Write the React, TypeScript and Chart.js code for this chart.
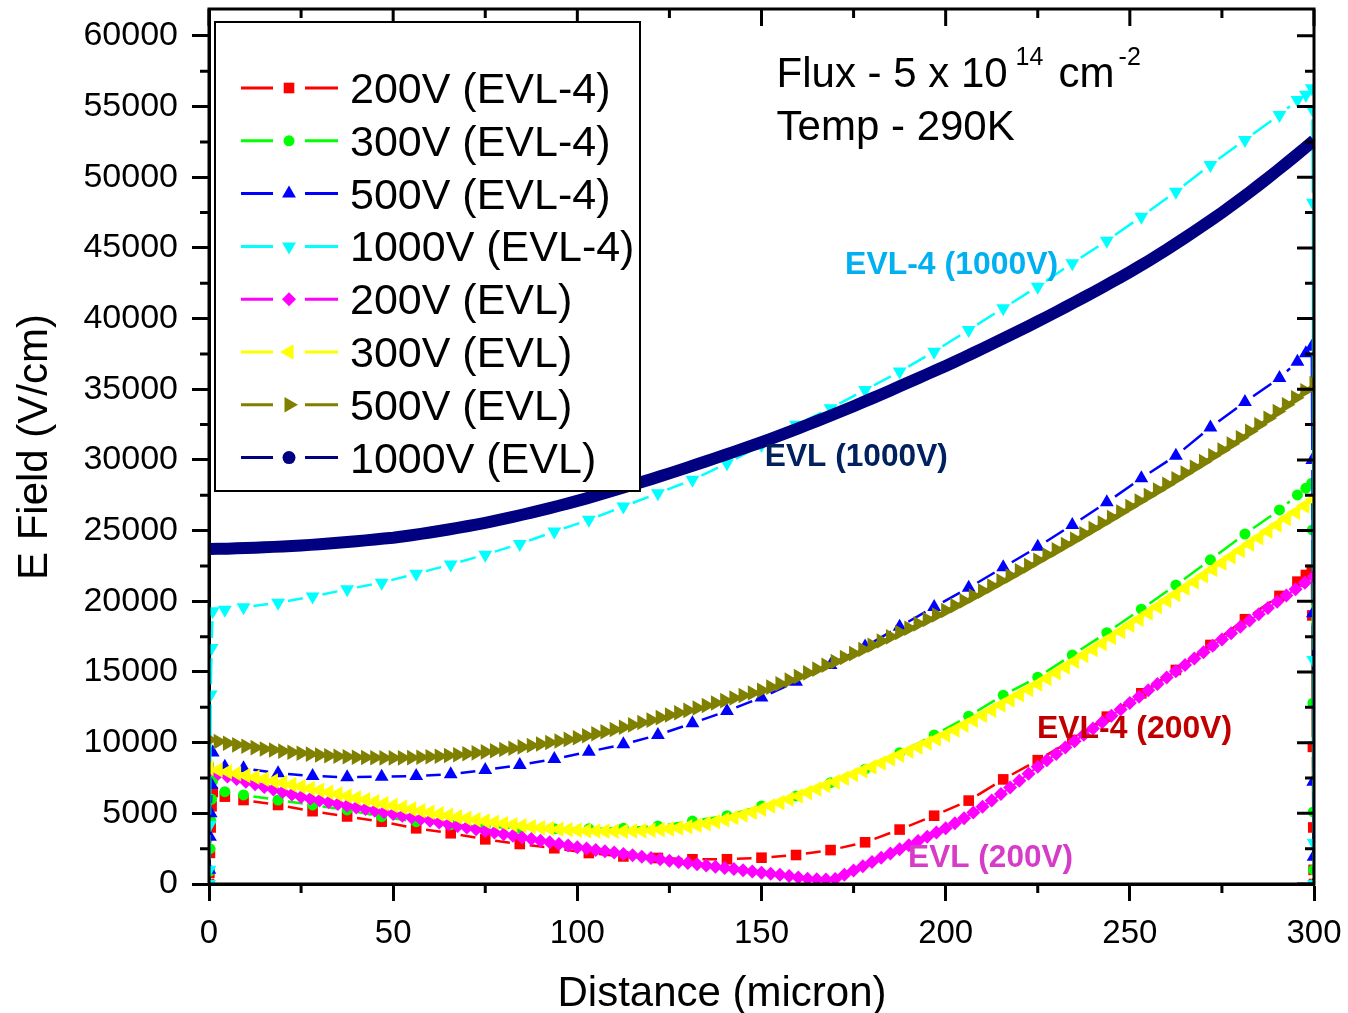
import React, { useEffect, useRef } from 'react';
import { Chart, registerables } from 'chart.js';

Chart.register(...registerables);

const FONT = '"Liberation Sans", Arial, Helvetica, sans-serif';

// Fine simulation mesh (micron) used by the EVL runs
const evlDistance = [
  0, 2.5, 5, 7.5, 10, 12.5, 15, 17.5, 20, 22.5,
  25, 27.5, 30, 32.5, 35, 37.5, 40, 42.5, 45, 47.5,
  50, 52.5, 55, 57.5, 60, 62.5, 65, 67.5, 70, 72.5,
  75, 77.5, 80, 82.5, 85, 87.5, 90, 92.5, 95, 97.5,
  100, 102.5, 105, 107.5, 110, 112.5, 115, 117.5, 120, 122.5,
  125, 127.5, 130, 132.5, 135, 137.5, 140, 142.5, 145, 147.5,
  150, 152.5, 155, 157.5, 160, 162.5, 165, 167.5, 170, 172.5,
  175, 177.5, 180, 182.5, 185, 187.5, 190, 192.5, 195, 197.5,
  200, 202.5, 205, 207.5, 210, 212.5, 215, 217.5, 220, 222.5,
  225, 227.5, 230, 232.5, 235, 237.5, 240, 242.5, 245, 247.5,
  250, 252.5, 255, 257.5, 260, 262.5, 265, 267.5, 270, 272.5,
  275, 277.5, 280, 282.5, 285, 287.5, 290, 292.5, 295, 297.5,
  300,
];

// Coarser mesh (micron) of the EVL-4 runs, refined at both contacts
const evl4Distance = [
  0, 0.1, 0.25, 0.45, 0.7, 1.0, 4.3,
  9.375, 18.75, 28.125, 37.5, 46.875, 56.25, 65.625, 75, 84.375, 93.75,
  103.125, 112.5, 121.875, 131.25, 140.625, 150, 159.375, 168.75, 178.125, 187.5,
  196.875, 206.25, 215.625, 225, 234.375, 243.75, 253.125, 262.5, 271.875, 281.25, 290.625,
  295.5, 297.8, 299.4, 299.55, 299.7, 299.8, 299.9, 300,
];

// Electric field (V/cm), EVL-4 model
const field200V_EVL4 = [
  0, 800, 2200, 4000, 5500, 6500, 6180,
  5940, 5590, 5150, 4780, 4410, 3940, 3590, 3160, 2830, 2530,
  2190, 1950, 1840, 1750, 1750, 1860, 2050, 2400, 2950, 3850,
  4830, 5900, 7400, 8760, 10190, 11840, 13490, 15140, 16910, 18730, 20380,
  21390, 21860, 22220, 19000, 9700, 4000, 1000, 0,
];
const field300V_EVL4 = [
  0, 900, 2500, 4500, 6000, 7300, 6530,
  6300, 5940, 5590, 5240, 4760, 4410, 4200, 4050, 3950, 3900,
  3900, 3950, 4100, 4450, 4830, 5520, 6230, 7170, 8120, 9290,
  10540, 11870, 13360, 14630, 16200, 17780, 19440, 21150, 22930, 24760, 26460,
  27520, 28000, 28350, 25050, 12800, 5100, 1000, 0,
];
const field500V_EVL4 = [
  0, 1000, 3350, 5000, 7000, 9300, 8300,
  8190, 7830, 7640, 7550, 7590, 7640, 7770, 8070, 8420, 8840,
  9360, 9880, 10540, 11370, 12240, 13200, 14300, 15500, 16800, 18200,
  19600, 20950, 22400, 23850, 25400, 27000, 28700, 30300, 32300, 34100, 35800,
  36950, 37550, 38000, 30000, 19150, 7240, 1930, 0,
];
const field1000V_EVL4 = [
  0, 1000, 4200, 13400, 16700, 19300, 19400,
  19580, 19900, 20330, 20850, 21320, 21950, 22600, 23300, 24060, 24930,
  25760, 26700, 27640, 28590, 29770, 31050, 32480, 33660, 34950, 36250,
  37660, 39200, 40730, 42260, 43920, 45500, 47210, 48980, 50870, 52640, 54410,
  55470, 55830, 56300, 54800, 48200, 15850, 2900, 0,
];

// Electric field (V/cm), EVL model
const field200V_EVL = [
  8000, 7805, 7613, 7424, 7238, 7053, 6869, 6687, 6506, 6327,
  6150, 6025, 5901, 5779, 5658, 5538, 5419, 5301, 5184, 5067,
  4950, 4830, 4710, 4590, 4470, 4350, 4230, 4110, 3990, 3870,
  3750, 3635, 3520, 3405, 3290, 3175, 3060, 2945, 2830, 2715,
  2600, 2505, 2410, 2315, 2220, 2125, 2030, 1935, 1840, 1745,
  1650, 1565, 1480, 1395, 1310, 1225, 1140, 1055, 970, 885,
  800, 720, 650, 560, 460, 380, 330, 310, 350, 650,
  950, 1250, 1550, 1850, 2150, 2450, 2750, 3050, 3350, 3650,
  3950, 4290, 4660, 5055, 5470, 5905, 6360, 6830, 7310, 7800,
  8300, 8750, 9200, 9650, 10100, 10550, 11000, 11450, 11900, 12350,
  12800, 13250, 13700, 14150, 14600, 15050, 15500, 15950, 16400, 16850,
  17300, 17745, 18190, 18635, 19080, 19525, 19970, 20415, 20860, 21305,
  21750,
];
const field300V_EVL = [
  8200, 8070, 7940, 7810, 7680, 7550, 7420, 7290, 7160, 7030,
  6900, 6765, 6630, 6495, 6360, 6225, 6090, 5955, 5820, 5685,
  5550, 5425, 5305, 5187, 5072, 4960, 4852, 4747, 4645, 4545,
  4450, 4360, 4275, 4195, 4120, 4050, 3985, 3927, 3877, 3835,
  3800, 3772, 3752, 3740, 3735, 3735, 3745, 3767, 3802, 3847,
  3900, 3970, 4055, 4155, 4270, 4400, 4545, 4705, 4885, 5085,
  5300, 5525, 5755, 5990, 6230, 6475, 6720, 6970, 7225, 7485,
  7750, 8015, 8285, 8560, 8840, 9120, 9400, 9685, 9970, 10260,
  10550, 10890, 11235, 11585, 11940, 12300, 12660, 13025, 13395, 13770,
  14150, 14545, 14945, 15350, 15760, 16175, 16590, 17010, 17435, 17865,
  18300, 18735, 19170, 19610, 20050, 20490, 20930, 21370, 21810, 22255,
  22700, 23150, 23600, 24050, 24500, 24950, 25400, 25850, 26300, 26750,
  27200,
];
const field500V_EVL = [
  10200, 10075, 9955, 9845, 9740, 9645, 9555, 9475, 9400, 9325,
  9250, 9185, 9127, 9077, 9034, 8998, 8968, 8945, 8930, 8922,
  8920, 8925, 8940, 8965, 9000, 9042, 9092, 9149, 9212, 9279,
  9350, 9430, 9515, 9605, 9700, 9800, 9900, 10005, 10115, 10230,
  10350, 10485, 10625, 10775, 10930, 11090, 11255, 11425, 11595, 11770,
  11950, 12115, 12285, 12455, 12625, 12800, 12975, 13155, 13335, 13515,
  13700, 13930, 14170, 14420, 14675, 14935, 15200, 15470, 15745, 16020,
  16300, 16590, 16885, 17185, 17485, 17790, 18095, 18405, 18715, 19030,
  19350, 19685, 20025, 20370, 20720, 21075, 21430, 21790, 22155, 22525,
  22900, 23270, 23640, 24015, 24390, 24770, 25150, 25535, 25920, 26310,
  26700, 27090, 27480, 27875, 28270, 28670, 29070, 29475, 29880, 30290,
  30700, 31130, 31570, 32020, 32480, 32950, 33420, 33900, 34390, 34890,
  35400,
];
const field1000V_EVL = [
  23700, 23710, 23725, 23745, 23767, 23792, 23819, 23849, 23881, 23915,
  23950, 23990, 24035, 24085, 24137, 24192, 24249, 24309, 24371, 24435,
  24500, 24580, 24670, 24765, 24865, 24970, 25080, 25192, 25307, 25427,
  25550, 25685, 25825, 25970, 26120, 26275, 26435, 26595, 26760, 26930,
  27100, 27280, 27465, 27655, 27850, 28045, 28240, 28440, 28640, 28845,
  29050, 29260, 29475, 29690, 29910, 30130, 30350, 30575, 30800, 31025,
  31250, 31490, 31735, 31985, 32235, 32490, 32745, 33005, 33265, 33530,
  33800, 34075, 34355, 34635, 34920, 35205, 35490, 35780, 36070, 36360,
  36650, 36950, 37255, 37565, 37875, 38190, 38505, 38825, 39145, 39470,
  39800, 40130, 40465, 40805, 41150, 41500, 41850, 42205, 42565, 42930,
  43300, 43680, 44070, 44470, 44880, 45300, 45725, 46160, 46600, 47045,
  47500, 47970, 48450, 48940, 49440, 49950, 50465, 50990, 51520, 52055,
  52600,
];

const seriesLabels = [
  '200V (EVL-4)', '300V (EVL-4)', '500V (EVL-4)', '1000V (EVL-4)',
  '200V (EVL)', '300V (EVL)', '500V (EVL)', '1000V (EVL)',
];

const xTickValues = [0, 50, 100, 150, 200, 250, 300];
const xMinorTickValues = [25, 75, 125, 175, 225, 275];
const yTickValues = [0, 5000, 10000, 15000, 20000, 25000, 30000, 35000, 40000, 45000, 50000, 55000, 60000];
const yMinorTickValues = [2500, 7500, 12500, 17500, 22500, 27500, 32500, 37500, 42500, 47500, 52500, 57500];

const xAxisTitle = 'Distance (micron)';
const yAxisTitle = 'E Field (V/cm)';

// In-plot curve labels, anchored in data coordinates (left edge, vertical centre)
const curveLabels = [
  { text: 'EVL-4 (1000V)', x: 172.7, y: 43940, color: '#00B0F0', width: 213 },
  { text: 'EVL (1000V)', x: 150.9, y: 30360, color: '#002060', width: 183 },
  { text: 'EVL-4 (200V)', x: 224.8, y: 11110, color: '#C00000', width: 195 },
  { text: 'EVL (200V)', x: 189.8, y: 2050, color: '#D63CC8', width: 165 },
];

// Conditions note: pieces of the first line with their offsets (px) from its start
const noteLine1 = [
  { text: 'Flux - 5 x 10', dx: 0, sup: false },
  { text: '14', dx: 239, sup: true },
  { text: 'cm', dx: 282, sup: false },
  { text: '-2', dx: 342, sup: true },
];
const noteLine2 = 'Temp - 290K';

// Visual style of each series (same order as seriesLabels)
const seriesStyles = [
  { color: '#FF0000', shape: 'rect', rotation: 0, radius: 7.5, sparse: true, line: 2.5 },
  { color: '#00FF00', shape: 'circle', rotation: 0, radius: 5.5, sparse: true, line: 2.5 },
  { color: '#0000FF', shape: 'triangle', rotation: 0, radius: 8, sparse: true, line: 2.5 },
  { color: '#00FFFF', shape: 'triangle', rotation: 180, radius: 8, sparse: true, line: 2.5 },
  { color: '#FF00FF', shape: 'rectRot', rotation: 0, radius: 7, sparse: false, line: 2 },
  { color: '#FFFF00', shape: 'triangle', rotation: -90, radius: 9, sparse: false, line: 2 },
  { color: '#808000', shape: 'triangle', rotation: 90, radius: 9, sparse: false, line: 2 },
  { color: '#000080', shape: 'circle', rotation: 0, radius: 0, sparse: false, line: 12 },
];

const seriesData = [
  [evl4Distance, field200V_EVL4],
  [evl4Distance, field300V_EVL4],
  [evl4Distance, field500V_EVL4],
  [evl4Distance, field1000V_EVL4],
  [evlDistance, field200V_EVL],
  [evlDistance, field300V_EVL],
  [evlDistance, field500V_EVL],
  [evlDistance, field1000V_EVL],
];

function drawMarker(ctx: CanvasRenderingContext2D, shape: string, rotation: number, x: number, y: number, r: number, color: string) {
  ctx.save();
  ctx.translate(x, y);
  ctx.rotate((rotation * Math.PI) / 180);
  ctx.fillStyle = color;
  ctx.beginPath();
  if (shape === 'rect') {
    const s = r * Math.SQRT1_2;
    ctx.rect(-s, -s, 2 * s, 2 * s);
  } else if (shape === 'circle') {
    ctx.arc(0, 0, r, 0, Math.PI * 2);
  } else if (shape === 'rectRot') {
    ctx.moveTo(0, -r);
    ctx.lineTo(r, 0);
    ctx.lineTo(0, r);
    ctx.lineTo(-r, 0);
    ctx.closePath();
  } else {
    ctx.moveTo(0, -r);
    ctx.lineTo(r * Math.sin((2 * Math.PI) / 3), -r * Math.cos((2 * Math.PI) / 3));
    ctx.lineTo(r * Math.sin((4 * Math.PI) / 3), -r * Math.cos((4 * Math.PI) / 3));
    ctx.closePath();
  }
  ctx.fill();
  ctx.restore();
}

// Keep the plot frame exactly where the axis sizes put it
function noLabelOverhang(s: any) {
  s.paddingTop = 0;
  s.paddingBottom = 0;
  s.paddingLeft = 0;
  s.paddingRight = 0;
}

const decorPlugin = {
  id: 'fieldDecor',
  // Origin-style connecting lines: broken just around each symbol
  beforeDatasetDraw(chart: any, args: any) {
    const style = seriesStyles[args.index];
    if (!style || !style.sparse) return;
    const { ctx, chartArea } = chart;
    const pts = args.meta.data;
    const gap = 10;
    ctx.save();
    ctx.beginPath();
    ctx.rect(chartArea.left, chartArea.top, chartArea.right - chartArea.left, chartArea.bottom - chartArea.top);
    ctx.clip();
    ctx.strokeStyle = style.color;
    ctx.lineWidth = style.line;
    ctx.beginPath();
    for (let i = 1; i < pts.length; i++) {
      const p = pts[i - 1];
      const q = pts[i];
      const dx = q.x - p.x;
      const dy = q.y - p.y;
      const d = Math.hypot(dx, dy);
      if (d <= 2 * gap + 3) continue;
      const ux = dx / d;
      const uy = dy / d;
      ctx.moveTo(p.x + ux * gap, p.y + uy * gap);
      ctx.lineTo(q.x - ux * gap, q.y - uy * gap);
    }
    ctx.stroke();
    ctx.restore();
  },
  afterDatasetsDraw(chart: any) {
    const { ctx, chartArea } = chart;
    const xs = chart.scales.x;
    const ys = chart.scales.y;
    const { left, right, top, bottom } = chartArea;

    // frame and tick marks
    ctx.save();
    ctx.strokeStyle = '#000';
    ctx.lineWidth = 3;
    ctx.strokeRect(left, top, right - left, bottom - top);
    ctx.lineWidth = 3;
    ctx.beginPath();
    for (const v of xTickValues) {
      const px = xs.getPixelForValue(v);
      ctx.moveTo(px, top);
      ctx.lineTo(px, top + 17);
    }
    for (const v of xMinorTickValues) {
      const px = xs.getPixelForValue(v);
      ctx.moveTo(px, bottom);
      ctx.lineTo(px, bottom + 9);
      ctx.moveTo(px, top);
      ctx.lineTo(px, top + 9);
    }
    for (const v of yTickValues) {
      const py = ys.getPixelForValue(v);
      ctx.moveTo(right, py);
      ctx.lineTo(right - 17, py);
    }
    for (const v of yMinorTickValues) {
      const py = ys.getPixelForValue(v);
      ctx.moveTo(left, py);
      ctx.lineTo(left - 9, py);
      ctx.moveTo(right, py);
      ctx.lineTo(right - 9, py);
    }
    ctx.stroke();
    ctx.restore();

    // legend box
    ctx.save();
    const lx0 = 215, ly0 = 22, lx1 = 640, ly1 = 491;
    ctx.fillStyle = '#fff';
    ctx.fillRect(lx0, ly0, lx1 - lx0, ly1 - ly0);
    ctx.strokeStyle = '#000';
    ctx.lineWidth = 2;
    ctx.strokeRect(lx0, ly0, lx1 - lx0, ly1 - ly0);
    ctx.font = `43px ${FONT}`;
    ctx.textAlign = 'left';
    ctx.textBaseline = 'alphabetic';
    seriesLabels.forEach((label, i) => {
      const st = seriesStyles[i];
      const cy = 88 + i * 52.8;
      ctx.strokeStyle = st.color;
      ctx.lineWidth = 3;
      ctx.beginPath();
      ctx.moveTo(241, cy);
      ctx.lineTo(273, cy);
      ctx.moveTo(305, cy);
      ctx.lineTo(338, cy);
      ctx.stroke();
      drawMarker(ctx, st.shape, st.rotation, 289, cy, st.radius > 0 ? st.radius : 6.5, st.color);
      ctx.fillStyle = '#000';
      ctx.fillText(label, 350, cy + 15);
    });
    ctx.restore();

    // curve labels
    ctx.save();
    ctx.textAlign = 'left';
    ctx.textBaseline = 'alphabetic';
    ctx.font = `bold 32px ${FONT}`;
    for (const lab of curveLabels) {
      const px = xs.getPixelForValue(lab.x);
      const py = ys.getPixelForValue(lab.y);
      const w = ctx.measureText(lab.text).width;
      ctx.save();
      ctx.translate(px, py + 11.5);
      ctx.scale(lab.width / w, 1);
      ctx.fillStyle = lab.color;
      ctx.fillText(lab.text, 0, 0);
      ctx.restore();
    }
    ctx.restore();

    // conditions note
    ctx.save();
    ctx.fillStyle = '#000';
    ctx.textAlign = 'left';
    ctx.textBaseline = 'alphabetic';
    const nx = xs.getPixelForValue(154.1);
    const nb1 = ys.getPixelForValue(56390);
    const nb2 = ys.getPixelForValue(52640);
    for (const part of noteLine1) {
      ctx.font = part.sup ? `25px ${FONT}` : `42px ${FONT}`;
      ctx.fillText(part.text, nx + part.dx, nb1 + (part.sup ? -22 : 0));
    }
    ctx.font = `42px ${FONT}`;
    ctx.fillText(noteLine2, nx, nb2);
    ctx.restore();

    // axis titles
    ctx.save();
    ctx.fillStyle = '#000';
    ctx.font = `42px ${FONT}`;
    ctx.textAlign = 'center';
    ctx.textBaseline = 'alphabetic';
    ctx.fillText(xAxisTitle, 722, 1006);
    ctx.translate(47, 447);
    ctx.rotate(-Math.PI / 2);
    ctx.fillText(yAxisTitle, 0, 0);
    ctx.restore();
  },
};

export default function App() {
  const canvasRef = useRef<HTMLCanvasElement>(null);

  useEffect(() => {
    const canvas = canvasRef.current;
    if (!canvas) return;
    Chart.defaults.font.family = FONT;
    Chart.defaults.color = '#000';

    const datasets = seriesLabels.map((label, i) => {
      const st = seriesStyles[i];
      const [xs, ys] = seriesData[i];
      return {
        label,
        data: xs.map((x, j) => ({ x, y: ys[j] })),
        showLine: !st.sparse,
        borderColor: st.color,
        backgroundColor: st.color,
        borderWidth: st.sparse ? 0 : st.line,
        pointStyle: st.shape,
        pointRotation: st.rotation,
        pointRadius: st.radius,
        pointHoverRadius: st.radius,
        pointBorderWidth: 0,
        tension: 0,
        order: 8 - i,
      };
    });

    const chart = new Chart(canvas, {
      type: 'scatter',
      data: { datasets },
      options: {
        responsive: false,
        maintainAspectRatio: false,
        animation: false,
        devicePixelRatio: 1,
        layout: { padding: { top: 9, right: 34, left: 0, bottom: 0 } },
        plugins: { legend: { display: false }, tooltip: { enabled: false } },
        events: [],
        scales: {
          x: {
            type: 'linear',
            position: 'bottom',
            min: 0,
            max: 300,
            afterBuildTicks: (s: any) => {
              s.ticks = xTickValues.map((v) => ({ value: v }));
            },
            afterFit: (s: any) => {
              s.height = 1013 - 884;
              noLabelOverhang(s);
            },
            ticks: {
              font: { family: FONT, size: 33 },
              color: '#000',
              padding: 13,
              autoSkip: false,
              maxRotation: 0,
              callback: (v: any) => String(v),
            },
            grid: { display: true, drawOnChartArea: false, drawTicks: true, tickLength: 17, tickWidth: 3, tickColor: '#000' },
            border: { display: true, color: '#000', width: 3 },
          },
          y: {
            type: 'linear',
            position: 'left',
            min: 0,
            max: 61900,
            afterBuildTicks: (s: any) => {
              s.ticks = yTickValues.map((v) => ({ value: v }));
            },
            afterFit: (s: any) => {
              s.width = 209;
              noLabelOverhang(s);
            },
            ticks: {
              font: { family: FONT, size: 34 },
              color: '#000',
              padding: 14,
              autoSkip: false,
              callback: (v: any) => String(v),
            },
            grid: { display: true, drawOnChartArea: false, drawTicks: true, tickLength: 17, tickWidth: 3, tickColor: '#000' },
            border: { display: true, color: '#000', width: 3 },
          },
        },
      },
      plugins: [decorPlugin],
    } as any);

    return () => chart.destroy();
  }, []);

  return (
    <div style={{ position: 'absolute', left: 0, top: 0, width: 1348, height: 1013, background: '#fff' }}>
      <canvas ref={canvasRef} width={1348} height={1013} style={{ display: 'block', width: 1348, height: 1013 }} />
    </div>
  );
}
